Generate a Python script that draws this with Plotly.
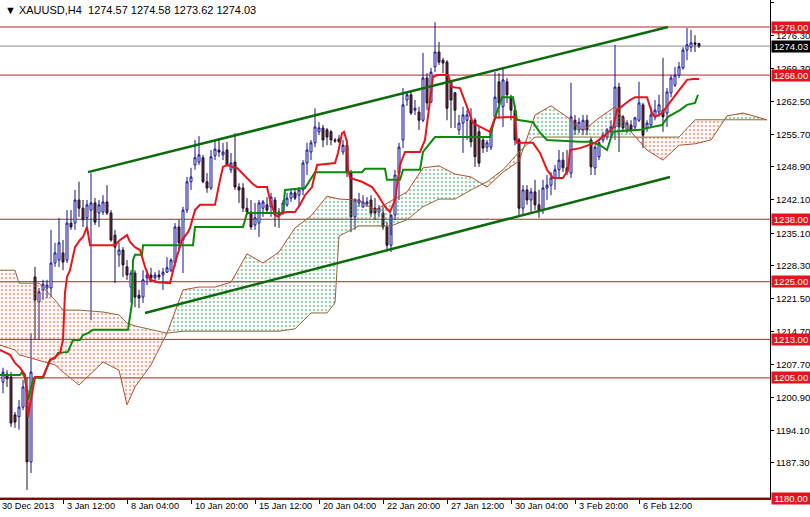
import plotly.graph_objects as go

# ---------------- data ----------------
opens = [1204.1,1205.8,1205.2,1197.3,1196.9,1198.9,1202.5,1187.5,1226.0,1220.8,
         1223.3,1223.7,1223.7,1228.9,1229.5,1231.0,1229.5,1237.2,1237.2,1242.0,
         1240.3,1238.3,1239.9,1241.4,1239.3,1239.5,1241.6,1239.3,1234.7,1230.6,
         1231.6,1228.1,1223.9,1226.8,1222.2,1221.8,1225.8,1226.4,1225.8,1226.4,
         1226.4,1227.0,1227.4,1228.9,1236.4,1233.7,1239.9,1245.8,1249.3,1249.9,
         1250.8,1245.8,1244.5,1251.2,1252.4,1251.4,1252.4,1248.3,1249.9,1244.7,
         1244.5,1240.3,1239.5,1236.8,1237.2,1240.3,1241.0,1240.6,1242.0,1239.5,
         1239.5,1241.0,1242.4,1243.5,1243.0,1244.1,1249.7,1252.0,1253.9,1256.2,
         1257.0,1256.6,1256.2,1254.5,1254.7,1252.0,1253.4,1247.6,1238.5,1241.4,
         1240.6,1241.2,1242.0,1240.3,1239.5,1239.3,1236.4,1232.6,1238.9,1247.6,
         1254.5,1262.8,1263.9,1260.7,1260.3,1258.6,1267.4,1262.4,1269.7,1272.8,
         1271.1,1270.7,1266.6,1264.3,1256.6,1258.0,1258.6,1258.6,1258.6,1256.2,
         1254.5,1253.0,1253.0,1259.3,1266.6,1261.4,1266.6,1263.4,1260.7,1254.5,
         1240.3,1244.1,1242.0,1243.7,1241.0,1239.9,1244.5,1245.1,1246.6,1248.3,
         1250.3,1248.7,1247.6,1258.6,1256.6,1256.6,1258.6,1254.5,1248.7,1251.0,
         1254.5,1255.1,1256.2,1257.2,1265.5,1259.3,1256.6,1257.6,1257.2,1258.6,
         1261.8,1257.0,1257.6,1259.3,1260.3,1260.7,1260.1,1264.3,1265.9,1268.0,
         1269.5,1273.2,1273.8,1274.7,1274.57]
highs = [1207.1,1206.6,1206.2,1197.9,1200.4,1204.6,1205.2,1214.3,1228.1,1223.7,
         1225.4,1225.4,1235.8,1233.1,1238.3,1233.7,1239.9,1239.9,1244.1,1245.8,
         1242.0,1242.0,1247.6,1242.4,1242.0,1243.0,1245.1,1239.9,1235.8,1233.1,
         1232.2,1229.5,1227.4,1227.4,1223.3,1227.4,1227.4,1227.9,1227.0,1227.4,
         1227.9,1230.1,1229.9,1237.2,1237.9,1240.6,1246.8,1248.7,1254.5,1255.3,
         1251.4,1247.6,1252.4,1254.5,1254.5,1253.9,1254.1,1251.8,1255.9,1245.5,
         1245.5,1242.4,1242.0,1241.4,1242.0,1242.0,1242.6,1243.5,1242.6,1240.3,
         1242.0,1243.5,1244.1,1244.5,1244.7,1250.3,1253.9,1254.5,1261.1,1258.2,
         1257.6,1257.0,1256.6,1254.9,1255.5,1254.5,1253.9,1248.3,1242.4,1243.5,
         1243.0,1242.6,1243.0,1242.4,1241.0,1240.6,1237.4,1234.7,1248.3,1253.9,
         1265.3,1264.5,1264.5,1262.8,1261.4,1272.6,1268.4,1269.5,1279.0,1274.9,
         1271.6,1271.1,1267.0,1264.5,1259.7,1261.4,1260.7,1261.1,1259.1,1257.2,
         1255.1,1254.5,1257.0,1268.6,1268.4,1269.7,1267.4,1263.9,1261.8,1254.9,
         1245.1,1245.1,1244.5,1246.2,1244.1,1246.2,1247.2,1247.8,1249.3,1252.4,
         1252.0,1252.4,1266.4,1259.7,1259.1,1259.7,1259.7,1255.1,1253.4,1254.5,
         1256.2,1257.0,1258.6,1274.3,1266.4,1259.7,1258.6,1258.6,1259.3,1266.6,
         1262.2,1258.6,1261.4,1262.8,1263.9,1271.6,1265.3,1268.0,1269.7,1270.7,
         1273.8,1277.8,1277.4,1276.3,1274.58]
lows = [1201.8,1203.1,1194.8,1194.6,1194.2,1198.3,1181.7,1185.2,1212.9,1212.9,
        1221.2,1221.6,1221.8,1228.1,1228.1,1227.4,1228.9,1235.8,1235.8,1238.5,
        1236.4,1236.4,1217.0,1236.8,1236.4,1238.9,1238.9,1233.3,1224.7,1228.1,
        1226.0,1225.4,1220.6,1219.7,1219.5,1220.6,1224.3,1224.9,1224.7,1225.4,
        1223.3,1226.8,1227.0,1228.1,1231.6,1226.8,1239.3,1244.1,1248.3,1249.3,
        1245.5,1243.5,1244.1,1250.3,1251.0,1250.3,1248.9,1247.6,1244.1,1241.4,
        1239.5,1238.9,1235.8,1235.8,1234.3,1238.5,1239.3,1238.5,1236.4,1236.2,
        1238.9,1240.6,1241.6,1242.0,1240.6,1243.0,1247.2,1250.3,1253.0,1255.5,
        1253.0,1253.4,1253.4,1253.9,1253.9,1251.4,1246.8,1235.3,1235.8,1240.6,
        1240.3,1240.6,1238.5,1237.9,1238.5,1235.8,1231.6,1231.2,1237.9,1242.0,
        1252.8,1261.6,1259.7,1259.7,1256.6,1258.2,1260.7,1262.2,1268.6,1270.1,
        1268.4,1258.6,1257.0,1257.0,1255.5,1251.8,1254.5,1253.0,1248.9,1248.9,
        1251.8,1252.0,1252.4,1258.6,1259.1,1257.2,1262.2,1258.6,1253.4,1238.9,
        1238.9,1241.0,1239.5,1239.9,1238.3,1239.1,1242.0,1243.0,1244.1,1246.6,
        1247.8,1247.2,1246.6,1255.5,1255.9,1255.5,1255.5,1247.2,1247.2,1250.3,
        1253.9,1254.5,1255.1,1254.5,1252.0,1256.2,1255.9,1256.2,1256.6,1258.2,
        1252.8,1256.2,1257.2,1258.6,1259.3,1256.2,1257.2,1263.4,1265.5,1267.4,
        1269.1,1271.1,1272.8,1272.8,1273.62]
closes = [1206.2,1204.8,1195.6,1195.8,1198.9,1203.1,1187.5,1206.2,1221.2,1222.9,
          1224.5,1224.3,1228.9,1231.0,1233.1,1229.1,1237.2,1236.4,1242.0,1240.3,
          1237.9,1241.0,1241.4,1237.4,1241.0,1241.6,1239.3,1233.7,1232.2,1231.6,
          1228.5,1226.4,1226.8,1221.8,1221.6,1225.4,1226.4,1225.8,1226.4,1226.0,
          1227.0,1227.9,1229.5,1236.4,1233.1,1239.9,1245.8,1246.8,1250.8,1251.4,
          1245.8,1244.5,1251.0,1252.6,1252.0,1252.0,1249.3,1249.7,1244.7,1244.1,
          1240.3,1239.5,1236.4,1238.3,1241.4,1241.6,1239.9,1242.6,1238.9,1238.9,
          1241.4,1242.4,1243.5,1242.4,1244.1,1249.7,1252.4,1253.9,1257.2,1257.0,
          1254.5,1255.1,1254.5,1254.3,1254.1,1253.4,1247.8,1238.5,1242.0,1242.0,
          1241.6,1241.6,1239.3,1239.3,1240.3,1236.4,1232.6,1238.9,1247.2,1253.0,
          1261.8,1263.9,1260.1,1261.1,1258.6,1267.4,1262.2,1268.6,1272.8,1270.7,
          1270.5,1261.1,1262.8,1260.7,1258.0,1259.7,1259.7,1254.1,1251.0,1249.7,
          1252.8,1253.9,1256.6,1263.4,1262.2,1267.0,1263.9,1260.7,1254.5,1240.3,
          1244.1,1242.0,1243.7,1241.0,1239.9,1244.5,1245.1,1246.6,1248.3,1250.3,
          1248.7,1247.8,1259.3,1256.6,1258.2,1258.6,1256.6,1248.9,1253.0,1253.9,
          1255.5,1256.6,1257.2,1265.5,1257.2,1257.0,1258.0,1256.6,1259.1,1262.2,
          1255.5,1258.0,1259.7,1260.7,1261.8,1259.3,1264.5,1267.4,1268.0,1269.7,
          1273.2,1274.3,1274.7,1274.4,1274.03]

tenkan_bar = [-0.75,1.75,3,4.25,5.5,6,6.25,7.25,8,10,11.75,13,14.25,15,15.5,16,16.75,18,19.25,20,21,21.75,
              28,29.25,31,31.75,33,34.25,35.5,36.75,38.75,41.75,43,44.75,46.25,46.75,48,49.25,53,54.25,55,56,
              57.25,58.5,59.75,61,62.25,63.5,66,66.75,68,68.75,69.75,71,73,74.25,75.5,77.25,78.5,83,83.75,
              84.75,85.25,86,86.25,86.75,89.75,92.25,93.75,95.5,96.75,98,99.25,100.5,104.25,105.5,106.75,
              107.5,108.5,111.25,112.25,114.25,116,117.5,121.75,123,128,128.5,132.5,134.25,136,137.5,140,
              141.25,141.75,144.25,148,150.5,152.5,153.5,156.75,158,161,162.25,163,164.75,166.25,168.5,171,
              172.5,174]
tenkan_val = [1210.8,1209.8,1208.1,1207.1,1205.6,1201.4,1196.9,1201.4,1205.2,1205.2,1208.7,1209.3,1210.2,
              1212.9,1222.7,1226.0,1227.4,1232.2,1233.7,1234.3,1236.4,1232.6,1232.6,1233.7,1234.7,1233.3,
              1232.2,1231.6,1228.1,1225.4,1224.9,1224.7,1228.9,1233.7,1235.3,1236.2,1239.9,1241.0,1241.0,
              1246.2,1248.9,1249.3,1248.9,1248.7,1247.6,1246.6,1245.5,1244.7,1244.7,1242.0,1238.9,1238.5,
              1239.3,1239.5,1239.5,1241.0,1243.0,1244.7,1249.3,1249.7,1251.8,1255.9,1256.2,1254.1,1248.3,
              1246.6,1245.8,1244.7,1243.0,1240.6,1239.5,1242.0,1249.3,1252.0,1252.0,1254.5,1262.8,1267.6,
              1268.0,1268.0,1265.5,1265.3,1261.4,1258.0,1256.2,1259.1,1259.3,1253.9,1253.9,1251.8,1248.3,
              1246.6,1246.6,1248.3,1252.4,1252.8,1253.9,1255.5,1257.0,1260.7,1262.8,1263.4,1263.4,1260.1,
              1259.3,1260.1,1261.8,1264.3,1267.0,1267.2,1267.2]

kijun_bar = [-0.75,4.25,4.75,5.5,6.25,7.5,8,10,11.75,13,13.75,16.25,17.5,19.25,20,21.25,22.5,31.25,32.25,
             32.5,33,34.75,35,47.5,48,60,61,70,70.5,75.5,78,89.75,90.5,95.5,96,99.25,100,104.25,105,108,
             121.75,123,124.75,127.5,128.5,132.5,134.25,136,144.25,146.75,149.25,151,152.5,159.25,162.25,
             164.75,166.25,169.25,171,173,173.75]
kijun_val = [1205.6,1205.6,1206.2,1205.0,1200.4,1204.6,1205.0,1205.0,1208.7,1209.1,1210.2,1210.4,1212.9,
             1212.9,1213.9,1214.3,1215.0,1215.0,1220.6,1229.5,1230.6,1230.6,1232.6,1232.6,1236.4,1236.4,
             1239.3,1239.3,1244.1,1244.5,1247.8,1247.8,1248.5,1248.5,1246.2,1246.2,1248.3,1248.3,1252.0,
             1255.1,1255.1,1259.1,1263.4,1263.4,1258.7,1258.2,1256.0,1254.5,1254.1,1254.1,1253.4,1252.4,
             1256.2,1256.6,1257.2,1257.6,1259.3,1260.7,1261.8,1262.2,1263.9]

cloud_bar = [-0.75,3,4,9,13,15,19,25,29,31,33,37,41,45,49,53,57,61,65,69,73,77,81,83,84,89,93,97,101,105,
             109,113,117,121,125,129,133,137,141,145,149,153,157,161,165,169,173,177,181,185,191]
span_a = [1211.8,1210.8,1209.8,1208.7,1207.7,1206.2,1203.5,1208.3,1206.6,1199.4,1203.1,1207.7,1214.3,1223.3,
          1223.9,1223.9,1224.9,1230.8,1228.9,1231.2,1236.2,1238.7,1242.8,1242.4,1242.2,1242.0,1239.9,1241.8,
          1243.7,1248.7,1249.1,1247.4,1246.8,1244.7,1247.8,1250.1,1259.7,1261.6,1259.3,1256.4,1259.1,1261.4,
          1256.2,1252.4,1250.3,1253.4,1253.7,1254.5,1259.5,1260.1,1258.7]
span_b = [1227.4,1227.4,1224.7,1224.7,1221.2,1219.1,1219.1,1218.7,1218.1,1216.4,1215.8,1215.0,1214.3,1214.7,
          1214.7,1214.7,1214.7,1214.7,1214.7,1214.7,1215.2,1218.5,1218.5,1220.6,1234.5,1236.6,1236.6,1236.6,
          1237.9,1240.6,1242.2,1242.2,1244.1,1245.8,1248.3,1252.0,1255.1,1255.1,1255.1,1255.1,1255.1,1255.1,
          1255.1,1255.1,1255.1,1255.1,1258.7,1258.7,1258.7,1258.7,1258.7]

upper_channel_bar = [21.25, 166.25]
upper_channel_val = [1247.8, 1278.0]
lower_channel_bar = [35.5, 166.75]
lower_channel_val = [1218.5, 1246.8]

level_lines = [1278.00, 1268.00, 1238.00, 1225.00, 1213.00, 1205.00, 1180.00]
bid_price = 1274.03

price_ticks = [1283.10, 1276.30, 1269.30, 1262.50, 1255.70, 1248.90, 1242.10, 1235.10,
               1228.30, 1221.50, 1214.70, 1207.70, 1200.90, 1194.10, 1187.30]
date_tick_bars = [15, 31, 47, 63, 79, 95, 111, 127, 143, 159]
date_tick_labels = ["3 Jan 12:00", "8 Jan 04:00", "10 Jan 20:00", "15 Jan 12:00", "20 Jan 04:00",
                    "22 Jan 20:00", "27 Jan 12:00", "30 Jan 04:00", "3 Feb 20:00", "6 Feb 12:00"]
first_date_label = "30 Dec 2013"
header = "\u25BC XAUUSD,H4  1274.57 1274.58 1273.62 1274.03"

FONT = "Liberation Sans"
X_MIN, X_MAX = -0.75, 191.75
Y_MIN, Y_MAX = 1180.0, 1283.62

fig = go.Figure()

# ---------------- Ichimoku cloud ----------------
def cloud_segments(xs, a, b):
    segs = []
    cur = {"sign": None, "x": [], "a": [], "b": []}
    for i in range(len(xs)):
        s = a[i] >= b[i]
        if cur["sign"] is None:
            cur["sign"] = s
        if s != cur["sign"]:
            d0 = a[i-1] - b[i-1]
            d1 = a[i] - b[i]
            t = d0 / (d0 - d1)
            xc = xs[i-1] + t * (xs[i] - xs[i-1])
            yc = a[i-1] + t * (a[i] - a[i-1])
            cur["x"].append(xc); cur["a"].append(yc); cur["b"].append(yc)
            segs.append(cur)
            cur = {"sign": s, "x": [xc], "a": [yc], "b": [yc]}
        cur["x"].append(xs[i]); cur["a"].append(a[i]); cur["b"].append(b[i])
    segs.append(cur)
    return segs

for seg in cloud_segments(cloud_bar, span_a, span_b):
    col = "#4f9a6c" if seg["sign"] else "#e0664a"
    px = seg["x"] + seg["x"][::-1]
    py = seg["a"] + seg["b"][::-1]
    fig.add_trace(go.Scatter(
        x=px, y=py, mode="lines", fill="toself", line=dict(width=0),
        fillcolor="rgba(0,0,0,0)",
        fillpattern=dict(shape=".", fgcolor=col, bgcolor="rgba(255,255,255,0)", size=4, solidity=0.35),
        hoverinfo="skip"))

fig.add_trace(go.Scatter(x=cloud_bar, y=span_a, mode="lines",
                         line=dict(color="#b0502a", width=1), hoverinfo="skip"))
fig.add_trace(go.Scatter(x=cloud_bar, y=span_b, mode="lines",
                         line=dict(color="#8a6a3a", width=1), hoverinfo="skip"))

# ---------------- level lines ----------------
for lv in level_lines:
    fig.add_shape(type="line", xref="paper", x0=0, x1=1, yref="y", y0=lv, y1=lv,
                  line=dict(color="#b3202a", width=1), layer="below")
fig.add_shape(type="line", xref="paper", x0=0, x1=1, yref="y", y0=bid_price, y1=bid_price,
              line=dict(color="#8c8c8c", width=1), layer="below")

# ---------------- tenkan / kijun ----------------
fig.add_trace(go.Scatter(x=kijun_bar, y=kijun_val, mode="lines",
                         line=dict(color="#0a8a0a", width=2), hoverinfo="skip"))
fig.add_trace(go.Scatter(x=tenkan_bar, y=tenkan_val, mode="lines",
                         line=dict(color="#e8141c", width=2), hoverinfo="skip"))

# ---------------- channel ----------------
fig.add_trace(go.Scatter(x=upper_channel_bar, y=upper_channel_val, mode="lines",
                         line=dict(color="#0b6a0b", width=2.5), hoverinfo="skip"))
fig.add_trace(go.Scatter(x=lower_channel_bar, y=lower_channel_val, mode="lines",
                         line=dict(color="#0b6a0b", width=2.5), hoverinfo="skip"))

# ---------------- candles ----------------
fig.add_trace(go.Candlestick(
    x=list(range(len(opens))), open=opens, high=highs, low=lows, close=closes,
    increasing=dict(line=dict(color="#10109a", width=1), fillcolor="#ffffff"),
    decreasing=dict(line=dict(color="#1c1030", width=1), fillcolor="#6e2a1c"),
    whiskerwidth=0, hoverinfo="skip"))

# ---------------- annotations ----------------
ann = []
ann.append(dict(text=header, xref="paper", yref="paper", x=0, y=1, xanchor="left", yanchor="top",
                xshift=3, yshift=-2, showarrow=False, font=dict(family=FONT, size=11, color="#000")))
ann.append(dict(text=first_date_label, xref="paper", yref="paper", x=0, y=0, xanchor="left",
                yanchor="top", yshift=-1, showarrow=False, font=dict(family=FONT, size=9.2, color="#000")))
for b, t in zip(date_tick_bars, date_tick_labels):
    ann.append(dict(text=t, xref="x", yref="paper", x=b, y=0, xanchor="left", yanchor="top",
                    xshift=2, yshift=-1, showarrow=False, font=dict(family=FONT, size=9.2, color="#000")))
for lv in level_lines:
    ann.append(dict(text=f"{lv:.2f}", xref="paper", yref="y", x=1, y=lv, xanchor="left",
                    yanchor="middle", xshift=1, showarrow=False, bgcolor="#e3141b", borderpad=0,
                    width=38, height=11, align="center",
                    font=dict(family=FONT, size=9.5, color="#ffffff")))
ann.append(dict(text=f"{bid_price:.2f}", xref="paper", yref="y", x=1, y=bid_price, xanchor="left",
                yanchor="middle", xshift=1, showarrow=False, bgcolor="#000000", borderpad=0,
                width=38, height=11, align="center",
                font=dict(family=FONT, size=9.5, color="#ffffff")))

fig.update_layout(
    width=810, height=517, margin=dict(l=0, r=40, t=0, b=19),
    plot_bgcolor="white", paper_bgcolor="white", showlegend=False,
    annotations=ann,
    xaxis=dict(range=[X_MIN, X_MAX], rangeslider=dict(visible=False), showgrid=False, zeroline=False,
               showline=True, linecolor="#7a0a0a", linewidth=2, tickvals=date_tick_bars,
               ticks="outside", ticklen=4, tickcolor="#000", showticklabels=False, fixedrange=True),
    yaxis=dict(range=[Y_MIN, Y_MAX], side="right", showgrid=False, zeroline=False, showline=True,
               linecolor="#000", linewidth=1, tickvals=price_ticks,
               ticktext=[f"{v:.2f}" for v in price_ticks], ticks="outside", ticklen=3,
               tickcolor="#000", tickfont=dict(family=FONT, size=9.5, color="#000"), fixedrange=True),
)

fig.write_html("out.html", config={"displayModeBar": False},
               post_script="document.body.style.margin='0';document.body.style.overflow='hidden';")
